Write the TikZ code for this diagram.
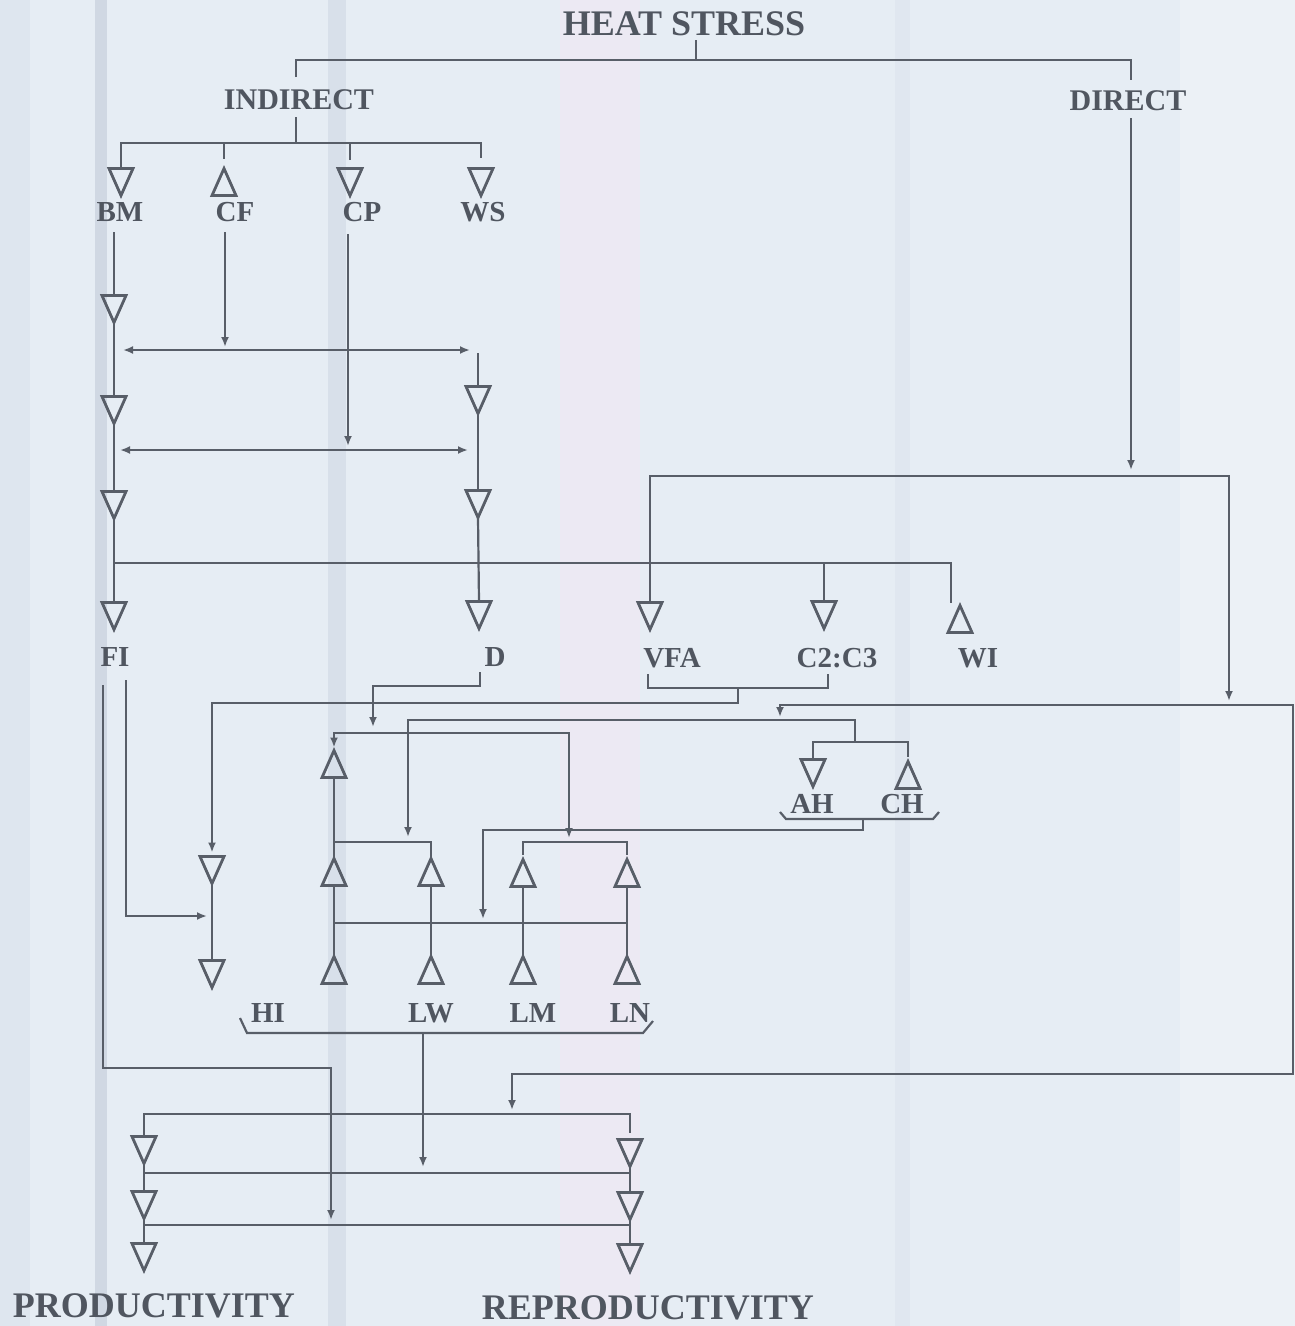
\documentclass[tikz,border=0pt]{standalone}
\usepackage{fontspec}
\setmainfont{Liberation Serif}
\usetikzlibrary{arrows.meta}
\definecolor{ink}{RGB}{88,94,104}
\definecolor{inktext}{RGB}{80,86,96}
\definecolor{bgc}{RGB}{230,237,244}
\newcommand\TriDn[2]{\node[tri] (#1) at (#2) {}; \draw[trik] (#1.north west) -- (#1.north east) -- (#1.south) -- cycle;}
\newcommand\TriUp[2]{\node[tri] (#1) at (#2) {}; \draw[trik] (#1.south west) -- (#1.south east) -- (#1.north) -- cycle;}
\tikzset{
  ln/.style={draw=ink, line width=2.2pt},
  arr/.style={ln, -{Latex[length=10pt,width=8pt]}},
  darr/.style={ln, {Latex[length=10pt,width=8pt]}-{Latex[length=10pt,width=8pt]}},
  lbl/.style={text=inktext, inner sep=0pt, font=\fontsize{29}{30}\selectfont\bfseries},
  mid/.style={text=inktext, inner sep=0pt, font=\fontsize{30}{31}\selectfont\bfseries},
  big/.style={text=inktext, inner sep=0pt, font=\fontsize{36}{37}\selectfont\bfseries},
  tri/.style={minimum width=24pt, minimum height=27pt, inner sep=0pt, outer sep=0pt},
  trik/.style={draw=ink, line width=2.8pt, line join=miter},
}
\begin{document}
\begin{tikzpicture}[x=1pt,y=-1pt]
\useasboundingbox (0,0) rectangle (1295,1326);
% background
\fill[bgc] (0,0) rectangle (1295,1326);
\fill[color={rgb,255:red,222;green,230;blue,239}] (0,0) rectangle (30,1326);
\fill[color={rgb,255:red,208;green,216;blue,227}] (95,0) rectangle (107,1326);
\fill[color={rgb,255:red,216;green,224;blue,234}] (328,0) rectangle (346,1326);
\fill[color={rgb,255:red,236;green,233;blue,243}] (560,0) rectangle (640,1326);
\fill[color={rgb,255:red,224;green,231;blue,240}] (895,0) rectangle (910,1326);
\fill[color={rgb,255:red,236;green,241;blue,246}] (1180,0) rectangle (1295,1326);

% ---------- labels ----------
\node[big] (hs) at (684,24) {HEAT STRESS};
\node[mid] (ind) at (299,100) {INDIRECT};
\node[mid] (dir) at (1128,101) {DIRECT};
\node[lbl] (bm) at (120,212) {BM};
\node[lbl] (cf) at (235,212) {CF};
\node[lbl] (cp) at (362,212) {CP};
\node[lbl] (ws) at (483,212) {WS};
\node[lbl] (fi) at (115,657) {FI};
\node[lbl] (d) at (495,657) {D};
\node[lbl] (vfa) at (672,658) {VFA};
\node[lbl] (c23) at (837,658) {C2:C3};
\node[lbl] (wi) at (978,658) {WI};
\node[lbl] (ah) at (812,804) {AH};
\node[lbl] (ch) at (902,804) {CH};
\node[lbl] (hi) at (268,1013) {HI};
\node[lbl] (lw) at (431,1013) {LW};
\node[lbl] (lm) at (533,1013) {LM};
\node[lbl] (lnn) at (630,1013) {LN};
\node[big] (prod) at (154,1306) {PRODUCTIVITY};
\node[big] (repr) at (648,1308) {REPRODUCTIVITY};

% ---------- triangles ----------
\TriDn{tBM}{121,182}
\TriUp{tCF}{224,182}
\TriDn{tCP}{350,182}
\TriDn{tWS}{481,182}
\TriDn{b1}{114,309}
\TriDn{b2}{114,410}
\TriDn{b3}{114,505}
\TriDn{tFI}{114,616}
\TriDn{r1}{478,400}
\TriDn{r2}{478,504}
\TriDn{tD}{479,615}
\TriDn{tVFA}{650,616}
\TriDn{tC23}{824,615}
\TriUp{tWI}{960,619}
\TriDn{hA}{212,870}
\TriDn{hB}{212,974}
\TriUp{u1}{334,764}
\TriUp{u2}{334,872}
\TriUp{u3}{334,970}
\TriUp{lw1}{431,872}
\TriUp{lw2}{431,970}
\TriUp{lm1}{523,873}
\TriUp{lm2}{523,970}
\TriUp{ln1}{627,873}
\TriUp{ln2}{627,970}
\TriDn{tAH}{813,773}
\TriUp{tCH}{908,775}
\TriDn{p1}{144,1150}
\TriDn{p2}{144,1205}
\TriDn{p3}{144,1257}
\TriDn{q1}{630,1153}
\TriDn{q2}{630,1206}
\TriDn{q3}{630,1258}

% ---------- junction coordinates ----------
\coordinate (hsS) at (696,40);
\coordinate (jTop) at (696,60);
\coordinate (indN) at (296,77);
\coordinate (dirN) at (1131,80);
\coordinate (indS) at (296,117);
\coordinate (jInd) at (296,143);
\coordinate (dirS) at (1131,118);

% ---------- connectors ----------
\draw[ln] (hsS) -- (jTop);
\draw[ln] (indN) -- (296,60) -- (1131,60) -- (dirN);
\draw[ln] (indS) -- (jInd);
\draw[ln] (tBM.north) -- (121,143) -- (481,143) -- (481,158);
\draw[ln] (224,143) -- (224,159);
\draw[ln] (350,143) -- (350,160);

% BM column
\draw[ln] (114,232) -- (b1.north);
\draw[ln] (b1.south) -- (b2.north);
\draw[ln] (b2.south) -- (b3.north);
\draw[ln] (b3.south) -- (tFI.north);
\draw[arr] (225,232) -- (225,347);
\draw[arr] (348,234) -- (348,446);
\draw[darr] (123,350) -- (470,350);
\draw[darr] (120,450) -- (468,450);
\draw[ln] (478,353) -- (r1.north);
\draw[ln] (r1.south) -- (r2.north);
\draw[ln] (r2.south) -- (tD.north);
\draw[ln] (114,563) -- (951,563) -- (951,603);
\draw[ln] (824,563) -- (tC23.north);

% DIRECT
\draw[arr] (dirS) -- (1131,470);
\draw[arr] (tVFA.north) -- (650,476) -- (1229,476) -- (1229,701);

% D
\draw[arr] (480,672) -- (480,686) -- (373,686) -- (373,727);
% VFA / C2:C3
\draw[ln] (648,674) -- (648,688) -- (828,688) -- (828,674);
\draw[arr, shorten >=4pt] (738,688) -- (738,703) -- (212,703) -- (hA.north);
\draw[ln] (hA.south) -- (hB.north);
% FI
\draw[arr] (126,680) -- (126,916) -- (207,916);
\draw[arr] (103,685) -- (103,1068) -- (331,1068) -- (331,1220);

% HI / LW / LM / LN block
\draw[darr, shorten <=3pt] (u1.north) -- (334,733) -- (569,733) -- (569,838);
\draw[ln] (u1.south) -- (u2.north);
\draw[ln] (u2.south) -- (u3.north);
\draw[ln] (334,842) -- (431,842) -- (lw1.north);
\draw[ln] (lw1.south) -- (lw2.north);
\draw[ln] (lm1.south) -- (lm2.north);
\draw[ln] (ln1.south) -- (ln2.north);
\draw[ln] (523,855) -- (523,842) -- (627,842) -- (627,855);
\draw[ln] (334,923) -- (627,923);

% AH / CH
\draw[ln] (tAH.north) -- (813,742) -- (908,742) -- (908,757);
\draw[arr] (855,742) -- (855,720) -- (408,720) -- (408,837);
\draw[ln] (780,812) -- (786,819) -- (933,819) -- (939,812);
\draw[arr] (863,819) -- (863,830) -- (483,830) -- (483,919);

% right loop
\draw[darr] (780,717) -- (780,705) -- (1293,705) -- (1293,1074) -- (512,1074) -- (512,1110);

% HI bracket
\draw[ln] (240,1018) -- (247,1033) -- (643,1033) -- (653,1021);
\draw[arr] (423,1033) -- (423,1167);

% bottom
\draw[ln] (p1.north) -- (144,1114) -- (630,1114) -- (630,1133);
\draw[ln] (p1.south) -- (p2.north);
\draw[ln] (p2.south) -- (p3.north);
\draw[ln] (q1.south) -- (q2.north);
\draw[ln] (q2.south) -- (q3.north);
\draw[ln] (144,1173) -- (630,1173);
\draw[ln] (144,1225) -- (630,1225);
\end{tikzpicture}
\end{document}
